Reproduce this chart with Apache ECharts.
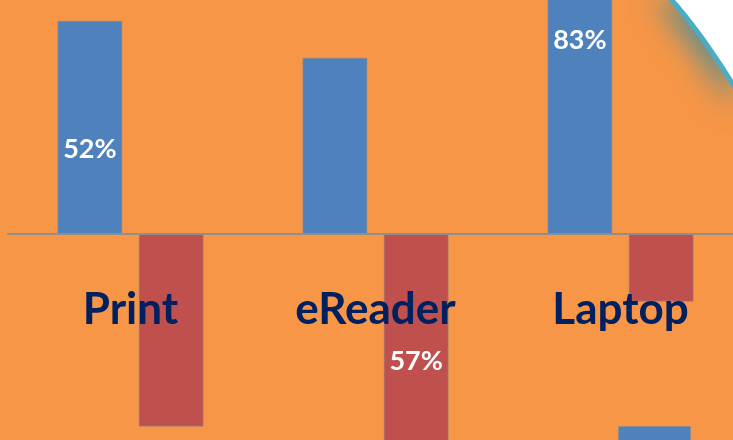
<!DOCTYPE html>
<html>
<head>
<meta charset="utf-8">
<script src="https://cdn.jsdelivr.net/npm/echarts@6/dist/echarts.min.js"></script>
<style>
  html, body { margin: 0; padding: 0; background: #F79646; }
  #main { width: 733px; height: 440px; }
</style>
</head>
<body>
<div id="main"></div>
<script>
// data
var categories = ['Print', 'eReader', 'Laptop'];
var blueValues = [52, 43, 83];
var redValues = [-47, -57, -16.5];
// which bars carry a % label (blue / red)
var blueLabelled = [true, false, true];
var redLabelled = [false, true, false];
// partial bar of the next chart, cut off at the bottom
var partialValues = [20];

var labelOffsets = { blue: [22, 0, -24], red: [0, 10, 0] };

function pct(p) {
  return Math.abs(p.value) + '%';
}

function buildData(values, shown, offs) {
  return values.map(function (v, i) {
    return {
      value: v,
      label: {
        show: shown[i],
        position: 'inside',
        offset: [0, offs[i]],
        formatter: pct,
        color: '#fff',
        fontFamily: 'Lato',
        fontWeight: 'bold',
        fontSize: 27
      }
    };
  });
}

// corner swoosh of the slide: quadratic curve sampled into points
function swoosh() {
  var pts = [];
  for (var t = 0; t <= 1.0001; t += 0.05) {
    var a = (1 - t) * (1 - t), b = 2 * t * (1 - t), c = t * t;
    pts.push([a * 667 + b * 700 + c * 740, a * -5 + b * 30 + c * 96]);
  }
  return pts;
}
var curve = swoosh();

var myChart = echarts.init(document.getElementById('main'));
myChart.setOption({
  backgroundColor: '#F79646',
  animation: false,
  grid: [
    { left: 8, width: 735, top: 29, height: 410, containLabel: false, outerBoundsMode: 'none' },
    { left: 618, width: 73, top: 426, height: 100, containLabel: false, outerBoundsMode: 'none' }
  ],
  xAxis: [
    {
      type: 'category',
      gridIndex: 0,
      data: categories,
      axisLine: { onZero: true, lineStyle: { color: '#8E8E8E', width: 2 } },
      axisTick: { show: false },
      z: 5,
      axisLabel: {
        margin: -151,
        color: '#002060',
        fontFamily: 'Lato',
        fontWeight: 'bold',
        fontSize: 44
      }
    },
    { type: 'category', gridIndex: 1, data: [''], show: false }
  ],
  yAxis: [
    { type: 'value', gridIndex: 0, min: -50, max: 50, show: false },
    { type: 'value', gridIndex: 1, min: 0, max: 20, inverse: true, show: false }
  ],
  graphic: [
    {
      type: 'polygon',
      z: 10,
      shape: { points: curve.concat([[745, -10], [667, -10]]) },
      style: {
        fill: '#fff',
        shadowBlur: 30,
        shadowOffsetX: -8,
        shadowOffsetY: 10,
        shadowColor: 'rgba(50,140,160,0.8)'
      }
    },
    {
      type: 'polyline',
      z: 11,
      shape: { points: curve, smooth: 0.3 },
      style: { stroke: '#4BACC6', lineWidth: 5, fill: null }
    }
  ],
  series: [
    {
      type: 'bar',
      xAxisIndex: 0,
      yAxisIndex: 0,
      barWidth: 65,
      barGap: '25%',
      clip: false,
      itemStyle: { color: '#4F81BD', borderColor: 'rgba(140,140,140,0.6)', borderWidth: 1 },
      data: buildData(blueValues, blueLabelled, labelOffsets.blue)
    },
    {
      type: 'bar',
      xAxisIndex: 0,
      yAxisIndex: 0,
      barWidth: 65,
      barGap: '25%',
      clip: false,
      itemStyle: { color: '#C0504D', borderColor: 'rgba(140,140,140,0.6)', borderWidth: 1 },
      data: buildData(redValues, redLabelled, labelOffsets.red)
    },
    {
      type: 'bar',
      xAxisIndex: 1,
      yAxisIndex: 1,
      barWidth: '100%',
      itemStyle: { color: '#4F81BD', borderColor: 'rgba(140,140,140,0.6)', borderWidth: 1 },
      data: partialValues
    }
  ]
});
</script>
</body>
</html>
